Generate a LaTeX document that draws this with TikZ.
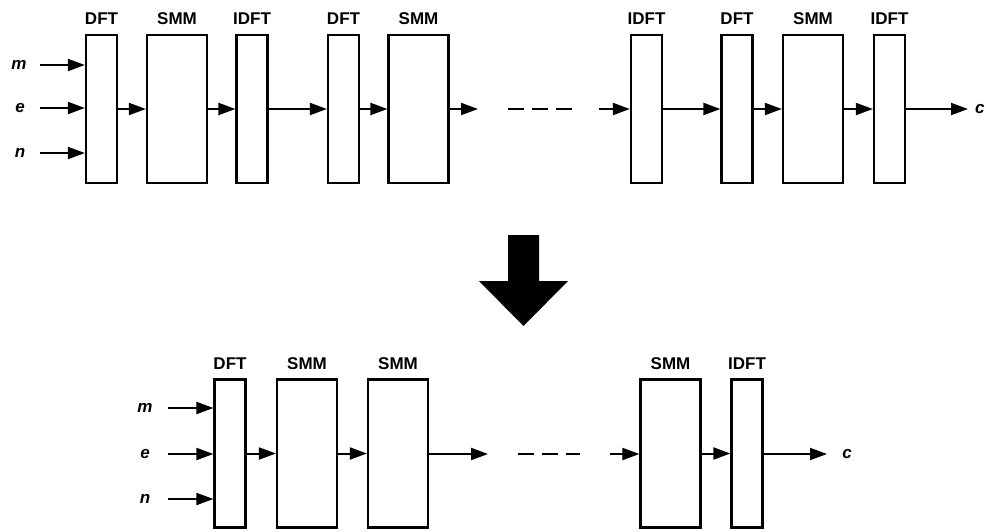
\documentclass[tikz,border=0pt]{standalone}
\usepackage{fontspec}
\setmainfont{Liberation Sans}
\usetikzlibrary{arrows.meta}
\begin{document}
\begin{tikzpicture}[x=1pt,y=-1pt,
  blk/.style={draw,line width=2.2pt,inner sep=0pt,minimum height=148pt},
  nar/.style={blk,minimum width=31pt},
  wid/.style={blk,minimum width=60pt},
  lab/.style={font=\fontsize{17}{20}\selectfont\bfseries,inner sep=0pt},
  var/.style={font=\fontsize{17}{20}\selectfont\bfseries\itshape,inner sep=0pt},
  arr/.style={line width=2pt,-{Triangle[length=17pt,width=12pt]}},
  dsh/.style={line width=2pt,dash pattern=on 16pt off 8pt}]
\useasboundingbox (0,0) rectangle (986,531);
% ---- top row ----
\node[nar] (d1) at (101.5,109) {};
\node[wid] (s1) at (177,109) {};
\node[nar] (i1) at (252,109) {};
\node[nar] (d2) at (343.5,109) {};
\node[wid] (s2) at (418.5,109) {};
\node[nar] (i2) at (646.5,109) {};
\node[nar] (d3) at (737,109) {};
\node[wid] (s3) at (813,109) {};
\node[nar] (i3) at (889.5,109) {};
\foreach \b/\t in {d1/DFT,s1/SMM,i1/IDFT,d2/DFT,s2/SMM,i2/IDFT,d3/DFT,s3/SMM,i3/IDFT}
  \node[lab] (l\b) at (\b.center |- 0,19) {\t};
\node[var] (vm) at (19,65) {m};
\node[var] (ve) at (20,108) {e};
\node[var] (vn) at (20,153) {n};
\coordinate (am) at (40,65);
\coordinate (ae) at (40,108);
\coordinate (an) at (40,153);
\draw[arr] (am) -- (am -| d1.west);
\draw[arr] (ae) -- (ae -| d1.west);
\draw[arr] (an) -- (an -| d1.west);
\draw[arr] (d1) -- (s1);
\draw[arr] (s1) -- (i1);
\draw[arr] (i1) -- (d2);
\draw[arr] (d2) -- (s2);
\coordinate (o2) at (478,109);
\draw[arr] (s2) -- (o2);
\coordinate (ds1) at (508,109);
\coordinate (de1) at (572,109);
\draw[dsh] (ds1) -- (de1);
\coordinate (p2) at (599,109);
\draw[arr] (p2) -- (i2);
\draw[arr] (i2) -- (d3);
\draw[arr] (d3) -- (s3);
\draw[arr] (s3) -- (i3);
\coordinate (o3) at (968,109);
\draw[arr] (i3) -- (o3);
\node[var,anchor=west] (vc1) at (975,109) {c};
% ---- big arrow ----
\fill (508,235) -- (539,235) -- (539,281) -- (568,281) -- (523.5,326) -- (479,281) -- (508,281) -- cycle;
% ---- bottom row ----
\node[nar] (bd) at (230,453.5) {};
\node[wid] (bs1) at (307,453.5) {};
\node[wid] (bs2) at (398,453.5) {};
\node[wid] (bs3) at (670.5,453.5) {};
\node[nar] (bi) at (747,453.5) {};
\foreach \b/\t in {bd/DFT,bs1/SMM,bs2/SMM,bs3/SMM,bi/IDFT}
  \node[lab] (l\b) at (\b.center |- 0,364) {\t};
\node[var] (bm) at (145,408) {m};
\node[var] (be) at (145,454) {e};
\node[var] (bn) at (145,499) {n};
\coordinate (bam) at (168,408);
\coordinate (bae) at (168,454);
\coordinate (ban) at (168,499);
\draw[arr] (bam) -- (bam -| bd.west);
\draw[arr] (bae) -- (bae -| bd.west);
\draw[arr] (ban) -- (ban -| bd.west);
\draw[arr] (bd) -- (bs1);
\draw[arr] (bs1) -- (bs2);
\coordinate (bo2) at (488,454);
\draw[arr] (bae -| bs2.east) -- (bo2);
\coordinate (bds) at (518,454);
\coordinate (bde) at (580,454);
\draw[dsh] (bds) -- (bde);
\coordinate (bp) at (610,454);
\draw[arr] (bp) -- (bp -| bs3.west);
\draw[arr] (bs3) -- (bi);
\coordinate (bo) at (827,454);
\draw[arr] (bae -| bi.east) -- (bo);
\node[var] (vc2) at (847,454) {c};
\end{tikzpicture}
\end{document}
